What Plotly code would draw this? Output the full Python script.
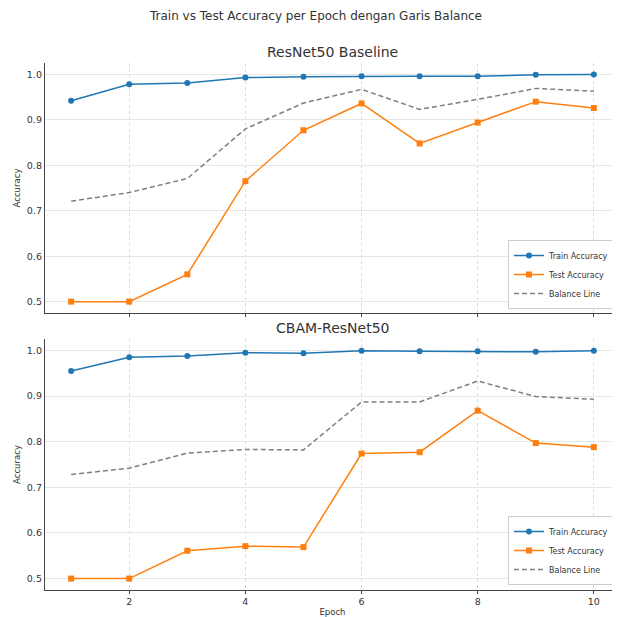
import plotly.graph_objects as go

epochs = [1, 2, 3, 4, 5, 6, 7, 8, 9, 10]

base_train = [0.942, 0.978, 0.981, 0.993, 0.995, 0.996, 0.996, 0.996, 0.999, 0.9995]
base_test = [0.500, 0.500, 0.560, 0.765, 0.877, 0.936, 0.848, 0.894, 0.940, 0.926]
base_balance = [0.721, 0.740, 0.771, 0.880, 0.937, 0.967, 0.923, 0.945, 0.969, 0.963]

cbam_train = [0.955, 0.985, 0.988, 0.995, 0.994, 0.999, 0.998, 0.998, 0.997, 0.999]
cbam_test = [0.500, 0.500, 0.561, 0.571, 0.569, 0.774, 0.777, 0.868, 0.797, 0.788]
cbam_balance = [0.728, 0.742, 0.775, 0.783, 0.782, 0.887, 0.887, 0.933, 0.899, 0.893]

x_ticks = [2, 4, 6, 8, 10]
y_ticks = [0.5, 0.6, 0.7, 0.8, 0.9, 1.0]
y_tick_text = ["0.5", "0.6", "0.7", "0.8", "0.9", "1.0"]

BLUE = "#1f77b4"
ORANGE = "#ff7f0e"
GRAY = "#7f7f7f"
TXT = "#333333"
FONT = "DejaVu Sans"

fig = go.Figure()

def add_set(train, test, bal, xa, ya, leg):
    fig.add_trace(go.Scatter(x=epochs, y=train, mode="lines+markers", name="Train Accuracy",
                             line=dict(color=BLUE, width=1.5), marker=dict(symbol="circle", size=6, color=BLUE),
                             xaxis=xa, yaxis=ya, legend=leg))
    fig.add_trace(go.Scatter(x=epochs, y=test, mode="lines+markers", name="Test Accuracy",
                             line=dict(color=ORANGE, width=1.5), marker=dict(symbol="square", size=6, color=ORANGE),
                             xaxis=xa, yaxis=ya, legend=leg))
    fig.add_trace(go.Scatter(x=epochs, y=bal, mode="lines", name="Balance Line",
                             line=dict(color=GRAY, width=1.5, dash="5px,3px"),
                             xaxis=xa, yaxis=ya, legend=leg))

add_set(base_train, base_test, base_balance, "x", "y", "legend")
add_set(cbam_train, cbam_test, cbam_balance, "x2", "y2", "legend2")

# page body adds an 8px offset; figure coordinates = screen - 8
OFF = 8
W, H = 612, 609
T, B = 63 - OFF, 27
PH = H - T - B

def py(pix):
    return (H - B - (pix - OFF)) / PH

xcommon = dict(range=[0.55, 10.45], tickvals=x_ticks, showgrid=True, gridcolor="#dcdcdc", gridwidth=0.8,
               griddash="dot", showline=True, linecolor="#444444", linewidth=1.3, ticks="outside",
               ticklen=3, tickcolor="#444444", zeroline=False, ticklabelstandoff=-1,
               tickfont=dict(family=FONT, size=9.5, color=TXT))
ycommon = dict(range=[0.475, 1.025], tickvals=y_ticks, ticktext=y_tick_text, showgrid=True, gridcolor="#e6e6e6",
               gridwidth=0.8, showline=True, linecolor="#444444", linewidth=1.3, zeroline=False, ticks="",
               tickfont=dict(family=FONT, size=9.5, color=TXT),
               title=dict(text="Accuracy", font=dict(family=FONT, size=8.5, color=TXT), standoff=4))

legcommon = dict(font=dict(family=FONT, size=8, color=TXT), bgcolor="rgba(255,255,255,0.85)",
                 bordercolor="#cccccc", borderwidth=1, xanchor="right", yanchor="bottom",
                 itemwidth=30, tracegroupgap=0)

fig.update_layout(
    width=W, height=H,
    margin=dict(l=45 - OFF, r=0, t=T, b=B),
    plot_bgcolor="white", paper_bgcolor="white",
    font=dict(family=FONT, color=TXT),
    xaxis=dict(domain=[0, 1], anchor="y", showticklabels=False, **xcommon),
    yaxis=dict(domain=[py(313), py(63)], anchor="x", **ycommon),
    xaxis2=dict(domain=[0, 1], anchor="y2",
                title=dict(text="Epoch", font=dict(family=FONT, size=8.5, color=TXT), standoff=4), **xcommon),
    yaxis2=dict(domain=[py(590), py(339)], anchor="x2", **ycommon),
    legend=dict(x=(615 - 45) / (620 - 45), y=py(309), **legcommon),
    legend2=dict(x=(615 - 45) / (620 - 45), y=py(585), **legcommon),
    annotations=[
        dict(text="Train vs Test Accuracy per Epoch dengan Garis Balance", x=0.47, y=py(16), xref="paper",
             yref="paper", showarrow=False, font=dict(family=FONT, size=12, color=TXT), xanchor="center",
             yanchor="middle"),
        dict(text="ResNet50 Baseline", x=0.5, y=py(52), xref="paper", yref="paper", showarrow=False,
             font=dict(family=FONT, size=14, color=TXT), xanchor="center", yanchor="middle"),
        dict(text="CBAM-ResNet50", x=0.5, y=py(328), xref="paper", yref="paper", showarrow=False,
             font=dict(family=FONT, size=14, color=TXT), xanchor="center", yanchor="middle"),
    ],
)

fig.write_html("out.html")
